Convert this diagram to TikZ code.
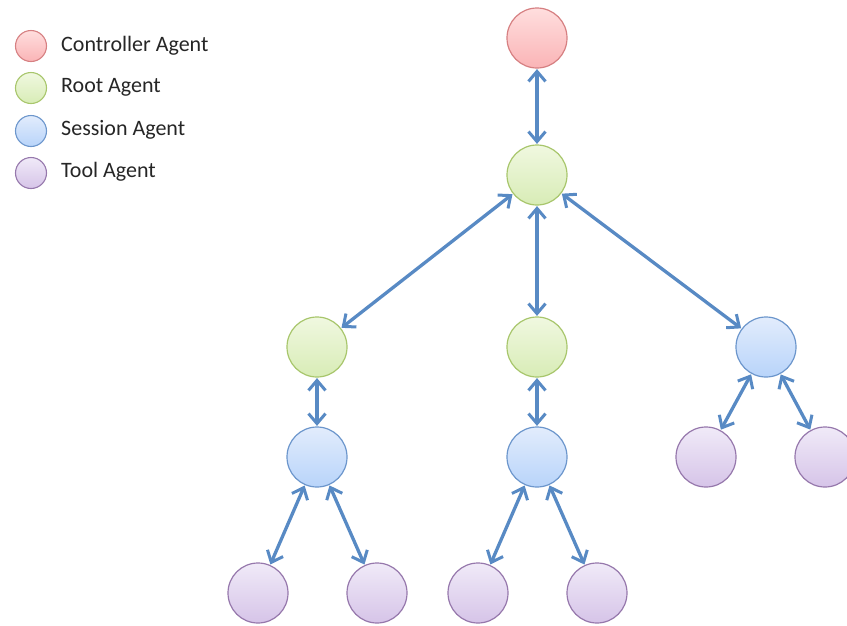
\documentclass[tikz,border=0pt]{standalone}
\usepackage{fontspec}
\setmainfont{Carlito}
\usetikzlibrary{arrows.meta}

\definecolor{redtop}{RGB}{255,222,222}
\definecolor{redbot}{RGB}{250,180,182}
\definecolor{redline}{RGB}{214,128,130}
\definecolor{greentop}{RGB}{240,248,224}
\definecolor{greenbot}{RGB}{216,236,182}
\definecolor{greenline}{RGB}{168,198,108}
\definecolor{bluetop}{RGB}{226,236,252}
\definecolor{bluebot}{RGB}{184,212,250}
\definecolor{blueline}{RGB}{108,150,204}
\definecolor{purpletop}{RGB}{240,234,248}
\definecolor{purplebot}{RGB}{214,196,232}
\definecolor{purpleline}{RGB}{150,120,172}
\definecolor{linkcol}{RGB}{88,138,196}

\tikzset{
  agent/.style={circle, minimum size=60pt, inner sep=0pt, line width=1.2pt},
  keydot/.style={circle, minimum size=31pt, inner sep=0pt, line width=1.1pt},
  ctrl/.style={draw=redline, top color=redtop, bottom color=redbot},
  rootag/.style={draw=greenline, top color=greentop, bottom color=greenbot},
  sess/.style={draw=blueline, top color=bluetop, bottom color=bluebot},
  toolag/.style={draw=purpleline, top color=purpletop, bottom color=purplebot},
  keytext/.style={anchor=west, font=\fontsize{22}{24}\selectfont, text=black!85, inner sep=0pt},
  link/.style={draw=linkcol, line width=3.3pt,
    {Straight Barb[length=10pt,width=17pt,line width=3pt]}-{Straight Barb[length=10pt,width=17pt,line width=3pt]},
    shorten <=0.5pt, shorten >=0.5pt}
}

\begin{document}
\begin{tikzpicture}[x=1pt, y=-1pt]
  \useasboundingbox (0,0) rectangle (847,625);

  % key
  \node[keydot, ctrl]   (kc) at (31,46)  {};
  \node[keydot, rootag] (kr) at (31,88)  {};
  \node[keydot, sess]   (ks) at (31,131) {};
  \node[keydot, toolag] (kt) at (31,173) {};
  \node[keytext] (tc) at (61,46)  {Controller Agent};
  \node[keytext] (tr) at (61,87)  {Root Agent};
  \node[keytext] (ts) at (61,130) {Session Agent};
  \node[keytext] (tt) at (61,172) {Tool Agent};

  % agent tree
  \node[agent, ctrl]   (c)   at (537,38)  {};
  \node[agent, rootag] (r)   at (537,175) {};
  \node[agent, rootag] (r1)  at (317,347) {};
  \node[agent, rootag] (r2)  at (537,347) {};
  \node[agent, sess]   (s3)  at (766,347) {};
  \node[agent, sess]   (s1)  at (317,457) {};
  \node[agent, sess]   (s2)  at (537,457) {};
  \node[agent, toolag] (t5)  at (706,457) {};
  \node[agent, toolag] (t6)  at (825,457) {};
  \node[agent, toolag] (t1)  at (258,593) {};
  \node[agent, toolag] (t2)  at (377,593) {};
  \node[agent, toolag] (t3)  at (478,593) {};
  \node[agent, toolag] (t4)  at (597,593) {};

  \draw[link] (c) -- (r);
  \draw[link] (r) -- (r1);
  \draw[link] (r) -- (r2);
  \draw[link] (r) -- (s3);
  \draw[link] (r1) -- (s1);
  \draw[link] (r2) -- (s2);
  \draw[link] (s3) -- (t5);
  \draw[link] (s3) -- (t6);
  \draw[link] (s1) -- (t1);
  \draw[link] (s1) -- (t2);
  \draw[link] (s2) -- (t3);
  \draw[link] (s2) -- (t4);
\end{tikzpicture}
\end{document}
